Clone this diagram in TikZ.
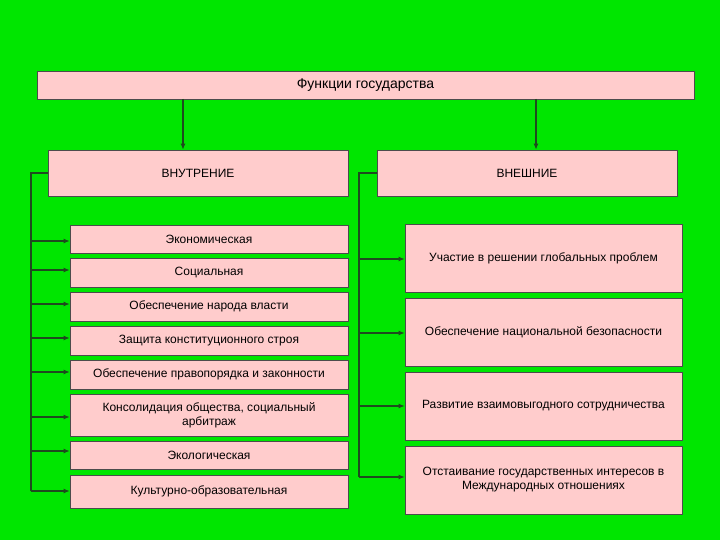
\documentclass[tikz,border=0pt]{standalone}
\usepackage{fontspec}
\setmainfont{Liberation Sans}
\usetikzlibrary{arrows.meta}
\definecolor{bg}{HTML}{00E600}
\definecolor{pk}{HTML}{FFCCCC}
\definecolor{ln}{HTML}{1F4A1F}
\begin{document}
\begin{tikzpicture}[x=1pt,y=-1pt,
 box/.style={draw=black!70,fill=pk,line width=0.6pt,font=\fontsize{12}{14}\selectfont,align=center,inner sep=0pt},
 con/.style={draw=ln,line width=1.2pt,-{Latex[length=6pt,width=5pt]}},
 bar/.style={draw=ln,line width=1.2pt}]
\fill[bg] (0,0) rectangle (720,540);
\useasboundingbox (0,0) rectangle (720,540);
\newcommand{\bx}[6]{\node[box,minimum width=#3-#2,minimum height=#5-#4] (#1) at ({(#2+#3)/2},{(#4+#5)/2}) {#6};}
\bx{top}{37}{694}{71}{99}{\fontsize{14}{16}\selectfont Функции государства}
\bx{vn}{48}{348}{150}{196}{ВНУТРЕНИЕ}
\bx{ex}{377}{677}{150}{196}{ВНЕШНИЕ}
\bx{l1}{70}{348}{225}{253}{Экономическая}
\bx{l2}{70}{348}{258}{287}{Социальная}
\bx{l3}{70}{348}{292}{321}{Обеспечение народа власти}
\bx{l4}{70}{348}{326}{355}{Защита конституционного строя}
\bx{l5}{70}{348}{360}{389}{Обеспечение правопорядка и законности}
\bx{l6}{70}{348}{394}{436}{Консолидация общества, социальный\\арбитраж}
\bx{l7}{70}{348}{441}{469}{Экологическая}
\bx{l8}{70}{348}{475}{508}{Культурно-образовательная}
\bx{r1}{405}{682}{224}{292}{Участие в решении глобальных проблем}
\bx{r2}{405}{682}{298}{366}{Обеспечение национальной безопасности}
\bx{r3}{405}{682}{372}{440}{Развитие взаимовыгодного сотрудничества}
\bx{r4}{405}{682}{446}{514}{Отстаивание государственных интересов в\\Международных отношениях}
\coordinate (t1) at (183,99); \coordinate (t2) at (536,99);
\draw[con] (t1) -- (t1 |- vn.north);
\draw[con] (t2) -- (t2 |- ex.north);
\coordinate (la) at (31,173); \coordinate (lb) at (31,491);
\draw[bar] (vn.west) -- (la) -- (lb);
\foreach \n/\y in {l1/241,l2/270,l3/304,l4/338,l5/372,l6/417,l7/451,l8/491}
  \draw[con] (31,\y) -- (\n.west |- 0,\y);
\coordinate (ra) at (359,173); \coordinate (rb) at (359,477);
\draw[bar] (ex.west) -- (ra) -- (rb);
\foreach \n/\y in {r1/259,r2/333,r3/406,r4/477}
  \draw[con] (359,\y) -- (\n.west |- 0,\y);
\end{tikzpicture}
\end{document}
